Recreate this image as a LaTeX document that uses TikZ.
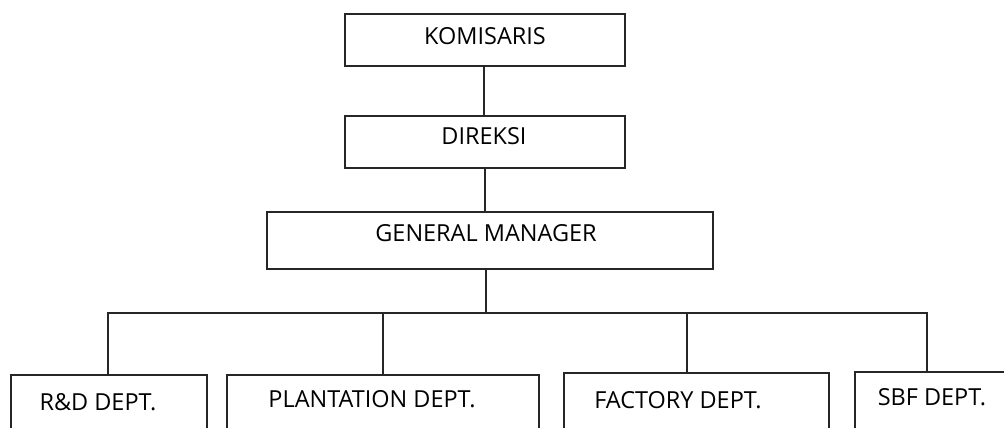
\documentclass[tikz,border=0pt]{standalone}
\usepackage{fontspec}
\setmainfont{Open Sans}
\begin{document}
\begin{tikzpicture}[x=0.75pt,y=-0.75pt,
  box/.style={draw=black!85,line width=1.2pt},
  lbl/.style={font=\fontsize{17.6}{19}\selectfont,inner sep=0pt,text=black},
  conn/.style={draw=black!85,line width=1.2pt}]
\useasboundingbox (0,0) rectangle (1004,428);
\clip (0,0) rectangle (1004,428);
% boxes
\draw[box] (345,14) rectangle (625,66);
\node[lbl] (kom) at (485,36) {KOMISARIS};
\coordinate (komb) at (484,66);
\draw[box] (345,116) rectangle (625,168);
\node[lbl] (dir) at (484,136) {DIREKSI};
\coordinate (dirt) at (484,116);
\coordinate (dirb) at (485,168);
\draw[box] (267,212) rectangle (713,269);
\node[lbl] (gm) at (486,233) {GENERAL MANAGER};
\coordinate (gmt) at (485,212);
\coordinate (gmb) at (486,269);
\coordinate (bus) at (486,313);
% departments
\draw[box] (11,375) rectangle (207,440);
\node[lbl] (rd) at (98,402) {R\&D DEPT.};
\draw[box] (227,375) rectangle (539,440);
\node[lbl] (pl) at (372,399) {PLANTATION DEPT.};
\draw[box] (564,373) rectangle (829,440);
\node[lbl] (fa) at (678,400) {FACTORY DEPT.};
\draw[box] (855,372) rectangle (1020,440);
\node[lbl] (sb) at (932,397) {SBF DEPT.};
\coordinate (rdt) at (108,375);
\coordinate (plt) at (383,375);
\coordinate (fat) at (687,373);
\coordinate (sbt) at (927,372);
% connectors
\draw[conn] (komb) -- (dirt);
\draw[conn] (dirb) -- (gmt);
\draw[conn] (gmb) -- (bus);
\draw[conn] (rdt) -- (rdt |- bus) -- (sbt |- bus) -- (sbt);
\draw[conn] (plt) -- (plt |- bus);
\draw[conn] (fat) -- (fat |- bus);
\end{tikzpicture}
\end{document}
